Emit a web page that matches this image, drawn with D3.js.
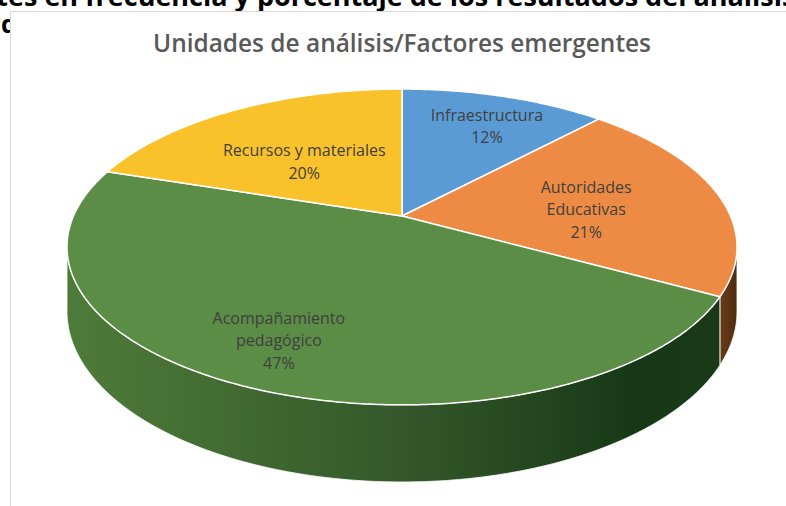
<!DOCTYPE html>
<html>
<head>
<meta charset="utf-8">
<script src="https://cdn.jsdelivr.net/npm/d3@7/dist/d3.min.js"></script>
<style>
  body { margin: 0; background: #fff; }
  svg { display: block; }
</style>
</head>
<body>
<div id="chart"></div>
<script>
// data
const categories = ["Infraestructura", "Autoridades Educativas", "Acompañamiento pedagógico", "Recursos y materiales"];
const labelLines = [["Infraestructura"], ["Autoridades", "Educativas"], ["Acompañamiento", "pedagógico"], ["Recursos y materiales"]];
const percents = [12, 21, 47, 20];
const topColors = ["#5b9bd5", "#ed8b44", "#5b8d47", "#f9c12a"];
const title = "Unidades de análisis/Factores emergentes";
const captionLine1 = "emergentes en frecuencia y porcentaje de los resultados del análisis";
const captionLine2 = "de datos";

const W = 786, H = 506;

// camera for the tilted pie (fitted to the picture)
const cam = {cx: 402, cy: 216, k: 328.5, a: 109.5, c: -0.196, g: 62};
function proj(theta, r, h) {
    const X = r * Math.sin(theta), Z = -r * Math.cos(theta);
    const w = 1 + cam.c * Z;
    return [cam.cx + cam.k * X / w, (cam.cy + cam.a * Z + cam.g * h) / w];
}
// side wall is visible where the rim faces the viewer
const zSil = -cam.c;
const thL = Math.acos(-zSil), thR = 2 * Math.PI - Math.acos(-zSil);

const svg = d3.select("#chart").append("svg")
    .attr("width", W).attr("height", H);

// caption of the page behind the chart box
const cap = svg.append("text")
    .attr("y", 6)
    .attr("font-family", "Open Sans, sans-serif")
    .attr("font-weight", 700)
    .attr("font-size", 27)
    .attr("fill", "#000")
    .text(captionLine1);
const pre = cap.node().getSubStringLength(0, 8);
cap.attr("x", 8 - pre);
svg.append("text")
    .attr("x", 1).attr("y", 33)
    .attr("font-family", "Open Sans, sans-serif")
    .attr("font-weight", 700)
    .attr("font-size", 25)
    .attr("fill", "#000")
    .text(captionLine2);

// chart area
svg.append("rect")
    .attr("x", 10.5).attr("y", 11.5)
    .attr("width", 800).attr("height", 520)
    .attr("fill", "#fff")
    .attr("stroke", "#d9d9d9");

svg.append("text")
    .attr("x", 402).attr("y", 52)
    .attr("text-anchor", "middle")
    .attr("font-family", "Open Sans, sans-serif")
    .attr("font-weight", 600)
    .attr("font-size", 26)
    .attr("fill", "#595959")
    .attr("textLength", 498)
    .attr("lengthAdjust", "spacingAndGlyphs")
    .text(title);

const defs = svg.append("defs");
const wallStops = [
    [["0%", "#4f7b39"], ["50%", "#34582a"], ["85%", "#173816"], ["100%", "#1a3a18"]],
    [["0%", "#6a3c18"], ["100%", "#4e2b10"]]
];
const gGreen = defs.append("linearGradient").attr("id", "wallGreen")
    .attr("gradientUnits", "userSpaceOnUse")
    .attr("x1", 67).attr("x2", 737).attr("y1", 0).attr("y2", 0);
gGreen.selectAll("stop").data(wallStops[0]).join("stop")
    .attr("offset", d => d[0]).attr("stop-color", d => d[1]);
const gBrown = defs.append("linearGradient").attr("id", "wallBrown")
    .attr("x1", 0).attr("x2", 1).attr("y1", 0).attr("y2", 0);
gBrown.selectAll("stop").data(wallStops[1]).join("stop")
    .attr("offset", d => d[0]).attr("stop-color", d => d[1]);
const wallFill = ["#2e5780", "url(#wallBrown)", "url(#wallGreen)", "#9a7512"];

const pie = d3.pie().sort(null).value(d => d);
const arcs = pie(percents);

const line = d3.line();
function samples(a0, a1) {
    const n = Math.max(2, Math.ceil((a1 - a0) / 0.01));
    return d3.range(n + 1).map(i => a0 + (a1 - a0) * i / n);
}

// side walls
const walls = svg.append("g");
arcs.forEach((d, i) => {
    const a0 = Math.max(d.startAngle, thL), a1 = Math.min(d.endAngle, thR);
    if (a1 <= a0) return;
    const ts = samples(a0, a1);
    const pts = ts.map(t => proj(t, 1, 0)).concat(ts.slice().reverse().map(t => proj(t, 1, 1)));
    walls.append("path")
        .attr("d", line(pts) + "Z")
        .attr("fill", wallFill[i])
        .attr("stroke", "#fff")
        .attr("stroke-width", 0.8)
        .attr("stroke-linejoin", "round");
});

// top face
const tops = svg.append("g");
arcs.forEach((d, i) => {
    const pts = [proj(0, 0, 0)].concat(samples(d.startAngle, d.endAngle).map(t => proj(t, 1, 0)));
    tops.append("path")
        .attr("d", line(pts) + "Z")
        .attr("fill", topColors[i])
        .attr("stroke", "#fff")
        .attr("stroke-width", 1.5)
        .attr("stroke-linejoin", "round");
});

// data labels: placed along the slice middle, with a small nudge like Excel does
// order: Infraestructura, Autoridades, Acompañamiento, Recursos
const labelR = [0.73, 0.6, 0.79, 0.52];
const labelNudge = [[7, 7], [-7, 13], [-3, 2], [-5, 10.5]];
const labels = svg.append("g")
    .attr("font-family", "Open Sans, sans-serif")
    .attr("font-size", 16)
    .attr("fill", "#404040")
    .attr("text-anchor", "middle");
arcs.forEach((d, i) => {
    const mid = (d.startAngle + d.endAngle) / 2;
    const p = proj(mid, labelR[i], 0);
    const x = p[0] + labelNudge[i][0], y = p[1] + labelNudge[i][1];
    const lines = labelLines[i].concat([percents[i] + "%"]);
    const t = labels.append("text")
        .attr("x", x)
        .attr("y", y - (lines.length - 1) * 22.5 / 2);
    t.selectAll("tspan").data(lines).join("tspan")
        .attr("x", x)
        .attr("dy", (l, j) => j === 0 ? 0 : 22.5)
        .text(l => l);
});
</script>
</body>
</html>
